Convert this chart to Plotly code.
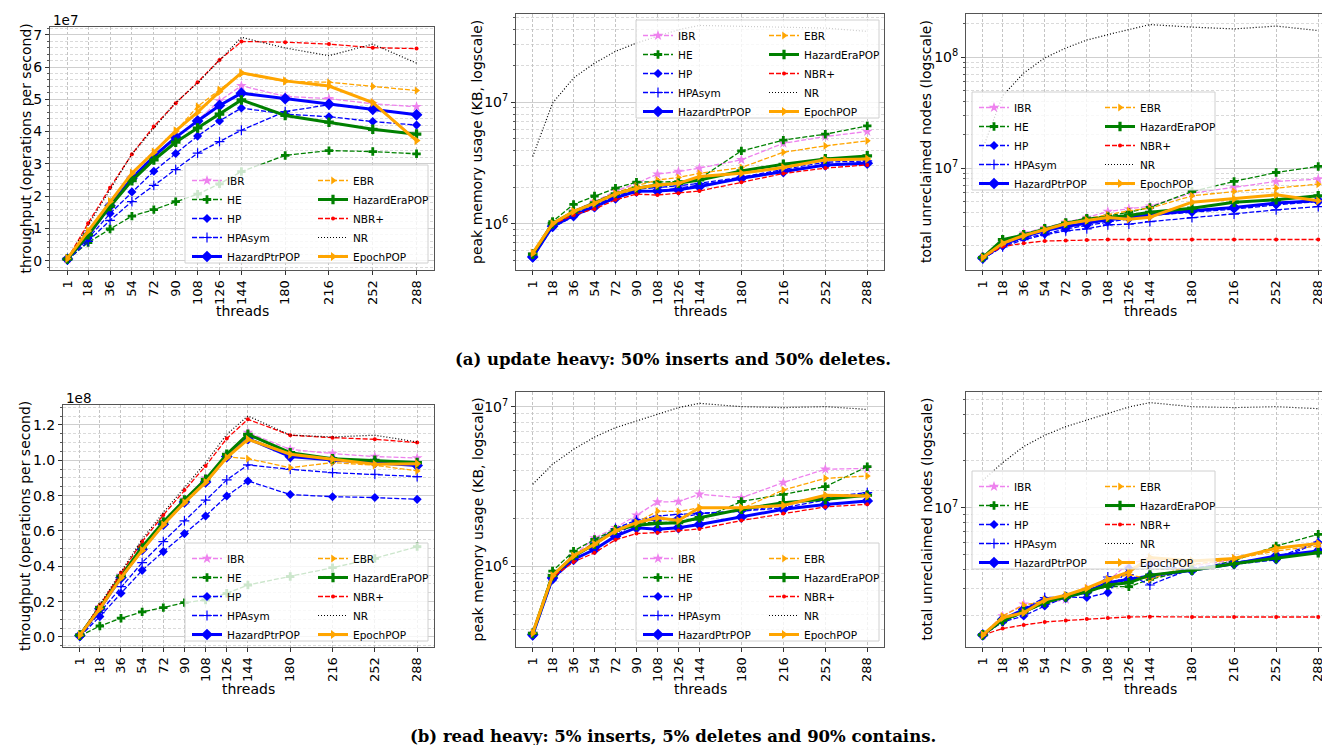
import plotly.graph_objects as go

W, H = 1330, 745

# ---------------- data ----------------
threads = [1, 18, 36, 54, 72, 90, 108, 126, 144, 180, 216, 252, 288]
series_names = ["IBR", "HE", "HP", "HPAsym", "HazardPtrPOP",
                "EBR", "HazardEraPOP", "NBR+", "NR", "EpochPOP"]

# (a) update heavy -- throughput (x 1e7 ops/s)
a_tp_IBR = [0.05, 0.85, 1.72, 2.58, 3.22, 3.82, 4.35, 4.95, 5.42, 5.09, 5.02, 4.86, 4.77]
a_tp_HE = [0.03, 0.56, 0.98, 1.38, 1.58, 1.83, 2.06, 2.38, 2.76, 3.26, 3.41, 3.38, 3.31]
a_tp_HP = [0.02, 0.69, 1.46, 2.13, 2.77, 3.32, 3.86, 4.33, 4.73, 4.54, 4.46, 4.31, 4.20]
a_tp_HPAsym = [0.02, 0.60, 1.25, 1.83, 2.33, 2.82, 3.33, 3.69, 4.04, 4.62, 4.83, 4.70, 4.52]
a_tp_HazardPtrPOP = [0.05, 0.78, 1.70, 2.55, 3.23, 3.82, 4.33, 4.81, 5.19, 5.02, 4.85, 4.69, 4.52]
a_tp_EBR = [0.07, 0.90, 1.80, 2.70, 3.35, 4.00, 4.78, 5.30, 5.80, 5.55, 5.53, 5.40, 5.27]
a_tp_HazardEraPOP = [0.05, 0.80, 1.68, 2.48, 3.12, 3.67, 4.11, 4.54, 4.98, 4.50, 4.29, 4.07, 3.92]
a_tp_NBR = [0.05, 1.16, 2.26, 3.30, 4.16, 4.88, 5.53, 6.22, 6.79, 6.77, 6.71, 6.60, 6.57]
a_tp_NR = [0.05, 1.10, 2.20, 3.30, 4.10, 4.90, 5.50, 6.20, 6.92, 6.59, 6.35, 6.71, 6.12]
a_tp_EpochPOP = [0.07, 0.92, 1.83, 2.71, 3.36, 4.02, 4.60, 5.24, 5.82, 5.57, 5.41, 4.90, 3.72]

# (a) update heavy -- peak memory (KB)
a_mem_IBR = [5.6e5, 1.0e6, 1.28e6, 1.52e6, 1.85e6, 2.15e6, 2.56e6, 2.69e6, 2.87e6, 3.36e6, 4.6e6, 5.23e6, 5.76e6]
a_mem_HE = [5.6e5, 1.04e6, 1.44e6, 1.69e6, 1.96e6, 2.2e6, 2.2e6, 2.22e6, 2.35e6, 3.98e6, 4.89e6, 5.47e6, 6.41e6]
a_mem_HP = [5.2e5, 0.93e6, 1.14e6, 1.36e6, 1.62e6, 1.86e6, 1.86e6, 1.96e6, 2.08e6, 2.37e6, 2.72e6, 3.05e6, 3.21e6]
a_mem_HPAsym = [5.4e5, 0.97e6, 1.2e6, 1.42e6, 1.68e6, 1.92e6, 1.98e6, 2.05e6, 2.15e6, 2.42e6, 2.8e6, 3.21e6, 3.29e6]
a_mem_HazardPtrPOP = [5.3e5, 0.95e6, 1.17e6, 1.38e6, 1.63e6, 1.85e6, 1.86e6, 1.9e6, 2.02e6, 2.37e6, 2.69e6, 3.05e6, 3.15e6]
a_mem_EBR = [5.7e5, 1.0e6, 1.27e6, 1.5e6, 1.8e6, 2.05e6, 2.29e6, 2.4e6, 2.6e6, 2.9e6, 3.88e6, 4.38e6, 4.82e6]
a_mem_HazardEraPOP = [5.6e5, 1.0e6, 1.25e6, 1.48e6, 1.76e6, 1.96e6, 2.08e6, 2.15e6, 2.29e6, 2.72e6, 3.09e6, 3.42e6, 3.62e6]
a_mem_NBR = [5.6e5, 0.98e6, 1.18e6, 1.32e6, 1.57e6, 1.75e6, 1.72e6, 1.78e6, 1.86e6, 2.19e6, 2.59e6, 2.87e6, 3.05e6]
a_mem_NR = [3.58e6, 9.87e6, 1.59e7, 2.11e7, 2.64e7, 3.09e7, 3.51e7, 3.98e7, 4.32e7, 4.25e7, 4.17e7, 4.11e7, 3.86e7]
a_mem_EpochPOP = [5.7e5, 1.0e6, 1.26e6, 1.47e6, 1.76e6, 1.96e6, 2.08e6, 2.15e6, 2.45e6, 2.6e6, 2.9e6, 3.36e6, 3.42e6]

# (a) update heavy -- total unreclaimed nodes
a_unr_IBR = [1.56e6, 2.1e6, 2.59e6, 2.9e6, 3.25e6, 3.58e6, 4.06e6, 4.29e6, 4.54e6, 5.94e6, 6.73e6, 7.58e6, 7.96e6]
a_unr_HE = [1.56e6, 2.26e6, 2.54e6, 2.81e6, 3.19e6, 3.53e6, 3.7e6, 4.0e6, 4.42e6, 6.15e6, 7.58e6, 9.13e6, 1.035e7]
a_unr_HP = [1.52e6, 2.0e6, 2.33e6, 2.54e6, 2.83e6, 3.04e6, 3.29e6, 3.53e6, 3.74e6, 4.0e6, 4.26e6, 4.66e6, 5.0e6]
a_unr_HPAsym = [1.52e6, 1.95e6, 2.26e6, 2.5e6, 2.72e6, 2.83e6, 3.08e6, 3.12e6, 3.29e6, 3.58e6, 3.85e6, 4.2e6, 4.5e6]
a_unr_HazardPtrPOP = [1.55e6, 2.03e6, 2.42e6, 2.72e6, 2.98e6, 3.19e6, 3.42e6, 3.58e6, 3.8e6, 4.12e6, 4.42e6, 4.84e6, 5.07e6]
a_unr_EBR = [1.56e6, 2.05e6, 2.5e6, 2.8e6, 3.2e6, 3.5e6, 3.8e6, 4.12e6, 4.35e6, 5.62e6, 6.15e6, 6.6e6, 7.17e6]
a_unr_HazardEraPOP = [1.56e6, 2.26e6, 2.5e6, 2.83e6, 3.19e6, 3.46e6, 3.58e6, 3.74e6, 4.0e6, 4.35e6, 4.93e6, 5.18e6, 5.62e6]
a_unr_NBR = [1.56e6, 1.96e6, 2.1e6, 2.2e6, 2.22e6, 2.25e6, 2.27e6, 2.27e6, 2.27e6, 2.27e6, 2.27e6, 2.27e6, 2.27e6]
a_unr_NR = [1.5e7, 4.5e7, 7.2e7, 9.86e7, 1.21e8, 1.43e8, 1.6e8, 1.78e8, 1.97e8, 1.87e8, 1.8e8, 1.91e8, 1.74e8]
a_unr_EpochPOP = [1.56e6, 2.1e6, 2.46e6, 2.78e6, 3.15e6, 3.37e6, 3.58e6, 3.46e6, 3.61e6, 4.93e6, 5.28e6, 5.74e6, 5.07e6]

# (b) read heavy -- throughput (x 1e8 ops/s)
b_tp_IBR = [0.01, 0.17, 0.35, 0.51, 0.65, 0.78, 0.90, 1.03, 1.157, 1.062, 1.038, 1.021, 1.013]
b_tp_HE = [0.005, 0.062, 0.106, 0.142, 0.166, 0.194, 0.209, 0.247, 0.294, 0.342, 0.392, 0.445, 0.511]
b_tp_HP = [0.003, 0.115, 0.247, 0.377, 0.483, 0.585, 0.685, 0.798, 0.883, 0.806, 0.794, 0.789, 0.779]
b_tp_HPAsym = [0.005, 0.138, 0.285, 0.421, 0.54, 0.657, 0.775, 0.889, 0.974, 0.949, 0.93, 0.921, 0.908]
b_tp_HazardPtrPOP = [0.008, 0.16, 0.336, 0.496, 0.638, 0.764, 0.877, 1.021, 1.123, 1.021, 1.002, 0.987, 0.97]
b_tp_EBR = [0.01, 0.16, 0.335, 0.49, 0.635, 0.76, 0.875, 1.02, 1.009, 0.958, 0.987, 0.972, 0.94]
b_tp_HazardEraPOP = [0.01, 0.166, 0.345, 0.509, 0.651, 0.775, 0.892, 1.034, 1.147, 1.043, 1.009, 1.0, 0.987]
b_tp_NBR = [0.01, 0.18, 0.364, 0.54, 0.69, 0.832, 0.968, 1.123, 1.232, 1.142, 1.128, 1.119, 1.1]
b_tp_NR = [0.01, 0.185, 0.374, 0.553, 0.704, 0.845, 0.987, 1.147, 1.251, 1.143, 1.132, 1.142, 1.104]
b_tp_EpochPOP = [0.01, 0.16, 0.335, 0.49, 0.635, 0.76, 0.875, 1.015, 1.119, 1.034, 1.006, 0.977, 0.981]

# (b) read heavy -- peak memory (KB)
b_mem_IBR = [3.78e5, 8.7e5, 1.16e6, 1.5e6, 1.74e6, 2.08e6, 2.52e6, 2.54e6, 2.82e6, 2.68e6, 3.34e6, 4.05e6, 4.1e6]
b_mem_HE = [3.78e5, 9.3e5, 1.24e6, 1.47e6, 1.7e6, 1.87e6, 1.87e6, 1.89e6, 1.96e6, 2.54e6, 2.82e6, 3.15e6, 4.2e6]
b_mem_HP = [3.64e5, 8.17e5, 1.1e6, 1.27e6, 1.54e6, 1.91e6, 1.94e6, 2.0e6, 2.13e6, 2.21e6, 2.32e6, 2.6e6, 2.82e6]
b_mem_HPAsym = [3.78e5, 8.5e5, 1.15e6, 1.4e6, 1.72e6, 1.94e6, 2.06e6, 2.11e6, 2.15e6, 2.21e6, 2.4e6, 2.7e6, 2.89e6]
b_mem_HazardPtrPOP = [3.7e5, 8.4e5, 1.1e6, 1.27e6, 1.54e6, 1.74e6, 1.7e6, 1.74e6, 1.82e6, 2.03e6, 2.27e6, 2.43e6, 2.56e6]
b_mem_EBR = [3.8e5, 8.7e5, 1.15e6, 1.41e6, 1.68e6, 1.87e6, 2.21e6, 2.2e6, 2.32e6, 2.29e6, 3.0e6, 3.55e6, 3.67e6]
b_mem_HazardEraPOP = [3.78e5, 8.7e5, 1.15e6, 1.37e6, 1.68e6, 1.8e6, 1.85e6, 1.87e6, 2.01e6, 2.27e6, 2.5e6, 2.62e6, 2.78e6]
b_mem_NBR = [3.78e5, 8.5e5, 1.06e6, 1.21e6, 1.46e6, 1.6e6, 1.62e6, 1.67e6, 1.71e6, 1.93e6, 2.14e6, 2.35e6, 2.44e6]
b_mem_NR = [3.26e6, 4.35e6, 5.4e6, 6.45e6, 7.38e6, 8.13e6, 8.95e6, 9.86e6, 1.05e7, 1.0e7, 9.86e6, 1.0e7, 9.61e6]
b_mem_EpochPOP = [3.8e5, 8.7e5, 1.16e6, 1.37e6, 1.66e6, 1.87e6, 2.01e6, 1.93e6, 2.32e6, 2.32e6, 2.4e6, 2.78e6, 2.75e6]

# (b) read heavy -- total unreclaimed nodes
b_unr_IBR = [1.51e6, 2.0e6, 2.38e6, 2.41e6, 2.56e6, 2.98e6, 3.35e6, 4.38e6, 4.66e6, 4.2e6, 4.6e6, 5.52e6, 5.88e6]
b_unr_HE = [1.51e6, 1.83e6, 2.1e6, 2.41e6, 2.65e6, 2.88e6, 3.09e6, 3.09e6, 3.45e6, 3.95e6, 4.55e6, 5.66e6, 6.73e6]
b_unr_HP = [1.51e6, 1.83e6, 2.0e6, 2.32e6, 2.65e6, 2.63e6, 2.83e6, 4.06e6, 4.3e6, 3.95e6, 4.3e6, 4.6e6, 5.95e6]
b_unr_HPAsym = [1.51e6, 1.86e6, 2.23e6, 2.63e6, 2.65e6, 2.84e6, 3.57e6, 3.7e6, 3.17e6, 4.05e6, 4.45e6, 4.76e6, 6.0e6]
b_unr_HazardPtrPOP = [1.51e6, 1.9e6, 2.2e6, 2.5e6, 2.65e6, 2.86e6, 3.28e6, 3.45e6, 3.62e6, 3.95e6, 4.35e6, 4.88e6, 5.26e6]
b_unr_EBR = [1.51e6, 2.0e6, 2.35e6, 2.5e6, 2.65e6, 2.98e6, 3.4e6, 3.7e6, 3.45e6, 4.3e6, 4.65e6, 5.26e6, 5.66e6]
b_unr_HazardEraPOP = [1.51e6, 1.88e6, 2.13e6, 2.45e6, 2.65e6, 2.86e6, 3.17e6, 3.28e6, 3.67e6, 3.95e6, 4.35e6, 4.71e6, 5.12e6]
b_unr_NBR = [1.51e6, 1.66e6, 1.75e6, 1.83e6, 1.87e6, 1.91e6, 1.94e6, 1.97e6, 1.98e6, 1.97e6, 1.97e6, 1.97e6, 1.97e6]
b_unr_NR = [1.5e7, 1.95e7, 2.48e7, 2.93e7, 3.33e7, 3.68e7, 4.04e7, 4.46e7, 4.76e7, 4.48e7, 4.42e7, 4.48e7, 4.35e7]
b_unr_EpochPOP = [1.51e6, 1.95e6, 2.1e6, 2.54e6, 2.72e6, 3.02e6, 3.45e6, 3.85e6, 4.76e6, 4.53e6, 4.7e6, 5.47e6, 5.88e6]

# tick labels
x_tick_labels = [str(t) for t in threads]
a_tp_ticks = [0, 1, 2, 3, 4, 5, 6, 7]
a_tp_ticklabels = ["0", "1", "2", "3", "4", "5", "6", "7"]
b_tp_ticks = [0.0, 0.2, 0.4, 0.6, 0.8, 1.0, 1.2]
b_tp_ticklabels = ["0.0", "0.2", "0.4", "0.6", "0.8", "1.0", "1.2"]

# ---------------- styles ----------------
styles = {
    "IBR": dict(color="#EE82EE", dash="5px,2px", width=1.3, symbol="star", size=8),
    "HE": dict(color="#008000", dash="5px,2px", width=1.3, symbol="cross", size=7),
    "HP": dict(color="#0000FF", dash="5px,2px", width=1.3, symbol="diamond", size=7),
    "HPAsym": dict(color="#0000FF", dash="5px,2px", width=1.3, symbol="cross-thin", size=7),
    "HazardPtrPOP": dict(color="#0000FF", dash="solid", width=3, symbol="diamond", size=9),
    "EBR": dict(color="#FFA500", dash="5px,2px", width=1.3, symbol="triangle-right", size=7),
    "HazardEraPOP": dict(color="#008000", dash="solid", width=3, symbol="cross", size=8),
    "NBR+": dict(color="#FF0000", dash="5px,2px", width=1.3, symbol="circle", size=4),
    "NR": dict(color="#000000", dash="1px,2px", width=1.2, symbol=None, size=0),
    "EpochPOP": dict(color="#FFA500", dash="solid", width=3, symbol="triangle-right", size=8),
}


def px_x(p):
    return p / W


def px_y(p):
    return 1 - p / H


def minor_log(lo, hi):
    vals = []
    for e in range(lo, hi + 1):
        for m in range(2, 10):
            vals.append(m * 10 ** e)
    return vals


panels = [
    dict(data=[a_tp_IBR, a_tp_HE, a_tp_HP, a_tp_HPAsym, a_tp_HazardPtrPOP, a_tp_EBR,
               a_tp_HazardEraPOP, a_tp_NBR, a_tp_NR, a_tp_EpochPOP], scale=1e7,
         box=(42, 426, 19, 262), ytype="linear", yrange=[-0.29e7, 7.24e7],
         ticks=[v * 1e7 for v in a_tp_ticks], ticktext=a_tp_ticklabels,
         minor=[i * 0.2e7 for i in range(-1, 37)],
         ylabel="throughput (operations per second)", ylab_x=17, offset="1e7",
         offset_pos=(43, 12), leg=(177, 157), xlab_y=303),
    dict(data=[a_mem_IBR, a_mem_HE, a_mem_HP, a_mem_HPAsym, a_mem_HazardPtrPOP, a_mem_EBR,
               a_mem_HazardEraPOP, a_mem_NBR, a_mem_NR, a_mem_EpochPOP], scale=1,
         box=(508, 876, 6, 262), ytype="log", yrange=[5.617, 7.73],
         ticks=[1e6, 1e7], ticktext=["10<sup>6</sup>", "10<sup>7</sup>"],
         minor=minor_log(5, 7),
         ylabel="peak memory usage (KB, logscale)", ylab_x=469, offset=None,
         leg=(628, 12), xlab_y=303),
    dict(data=[a_unr_IBR, a_unr_HE, a_unr_HP, a_unr_HPAsym, a_unr_HazardPtrPOP, a_unr_EBR,
               a_unr_HazardEraPOP, a_unr_NBR, a_unr_NR, a_unr_EpochPOP], scale=1,
         box=(958, 1327, 6, 262), ytype="log", yrange=[6.081, 8.39],
         ticks=[1e7, 1e8], ticktext=["10<sup>7</sup>", "10<sup>8</sup>"],
         minor=minor_log(6, 8),
         ylabel="total unreclaimed nodes (logscale)", ylab_x=918, offset=None,
         leg=(964, 84), xlab_y=303),
    dict(data=[b_tp_IBR, b_tp_HE, b_tp_HP, b_tp_HPAsym, b_tp_HazardPtrPOP, b_tp_EBR,
               b_tp_HazardEraPOP, b_tp_NBR, b_tp_NR, b_tp_EpochPOP], scale=1e8,
         box=(55, 426, 397, 639), ytype="linear", yrange=[-0.057e8, 1.313e8],
         ticks=[v * 1e8 for v in b_tp_ticks], ticktext=b_tp_ticklabels,
         minor=[i * 0.05e8 for i in range(-2, 28)],
         ylabel="throughput (operations per second)", ylab_x=17, offset="1e8",
         offset_pos=(56, 390), leg=(177, 535), xlab_y=681),
    dict(data=[b_mem_IBR, b_mem_HE, b_mem_HP, b_mem_HPAsym, b_mem_HazardPtrPOP, b_mem_EBR,
               b_mem_HazardEraPOP, b_mem_NBR, b_mem_NR, b_mem_EpochPOP], scale=1,
         box=(508, 876, 384, 639), ytype="log", yrange=[5.492, 7.092],
         ticks=[1e6, 1e7], ticktext=["10<sup>6</sup>", "10<sup>7</sup>"],
         minor=minor_log(5, 7),
         ylabel="peak memory usage (KB, logscale)", ylab_x=469, offset=None,
         leg=(628, 535), xlab_y=681),
    dict(data=[b_unr_IBR, b_unr_HE, b_unr_HP, b_unr_HPAsym, b_unr_HazardPtrPOP, b_unr_EBR,
               b_unr_HazardEraPOP, b_unr_NBR, b_unr_NR, b_unr_EpochPOP], scale=1,
         box=(958, 1327, 384, 639), ytype="log", yrange=[6.101, 7.746],
         ticks=[1e7], ticktext=["10<sup>7</sup>"],
         minor=minor_log(6, 7),
         ylabel="total unreclaimed nodes (logscale)", ylab_x=918, offset=None,
         leg=(964, 463), xlab_y=681),
]

FONT = "DejaVu Sans"
fig = go.Figure()
layout = dict(width=W, height=H, margin=dict(l=0, r=0, t=0, b=0),
              paper_bgcolor="white", plot_bgcolor="white", autosize=False,
              font=dict(family=FONT, size=14, color="black"))
annotations = []
shapes = []
LEG_H = 98
LEG_W = 243

for i, p in enumerate(panels):
    k = i + 1
    xa = "xaxis" if k == 1 else f"xaxis{k}"
    ya = "yaxis" if k == 1 else f"yaxis{k}"
    xr = "x" if k == 1 else f"x{k}"
    yr = "y" if k == 1 else f"y{k}"
    x0, x1, y0, y1 = p["box"]
    layout[xa] = dict(
        domain=[px_x(x0), px_x(x1)], anchor=yr, range=[-13.35, 302.35],
        tickmode="array", tickvals=threads, ticktext=x_tick_labels, tickangle=-90,
        ticks="outside", ticklen=4, tickcolor="#333", tickfont=dict(size=13),
        showline=True, mirror=True, linecolor="#555", linewidth=1,
        showgrid=True, gridcolor="#c4c4c4", griddash="3px,2px", gridwidth=1,
        zeroline=False,
    )
    layout[ya] = dict(
        domain=[px_y(y1), px_y(y0)], anchor=xr, type=p["ytype"], range=p["yrange"],
        tickmode="array", tickvals=p["ticks"], ticktext=p["ticktext"],
        ticks="outside", ticklen=4, tickcolor="#333", tickfont=dict(size=14),
        showline=True, mirror=True, linecolor="#555", linewidth=1,
        showgrid=True, gridcolor="#cfcfcf", gridwidth=1, zeroline=False,
        minor=dict(tickmode="array", tickvals=p["minor"], showgrid=True,
                   gridcolor="#dadada", griddash="3px,2px", ticks="outside",
                   ticklen=2, tickcolor="#555"),
    )
    legA = "legend" if k == 1 else f"legend{2 * k - 1}"
    legB = f"legend{2 * k}"
    lx, ly = p["leg"]
    for lname, xoff in ((legA, 2), (legB, 128)):
        layout[lname] = dict(x=px_x(lx + xoff), y=px_y(ly + 1), xanchor="left",
                             yanchor="top", bgcolor="rgba(0,0,0,0)", borderwidth=0,
                             font=dict(family=FONT, size=10.5, color="black"),
                             tracegroupgap=0, itemwidth=30)
    shapes.append(dict(type="rect", xref="paper", yref="paper",
                       x0=px_x(lx), x1=px_x(lx + LEG_W),
                       y0=px_y(ly + LEG_H), y1=px_y(ly),
                       fillcolor="rgba(255,255,255,0.8)",
                       line=dict(color="#d0d0d0", width=1), layer="above"))

    for j, (name, vals) in enumerate(zip(series_names, p["data"])):
        st = styles[name]
        yvals = [v * p["scale"] for v in vals]
        mode = "lines" if st["symbol"] is None else "lines+markers"
        marker = None
        if st["symbol"] is not None:
            marker = dict(symbol=st["symbol"], size=st["size"], color=st["color"],
                          line=dict(color=st["color"],
                                    width=1.2 if st["symbol"] == "cross-thin" else 0))
        fig.add_trace(go.Scatter(
            x=threads, y=yvals, name=name, mode=mode, xaxis=xr, yaxis=yr,
            line=dict(color=st["color"], dash=st["dash"], width=st["width"]),
            marker=marker, legend=legA if j < 5 else legB, showlegend=True,
        ))

    # axis titles
    annotations.append(dict(text=p["ylabel"], x=px_x(p["ylab_x"]),
                            y=px_y((y0 + y1) / 2), xref="paper", yref="paper",
                            textangle=-90, showarrow=False, xanchor="center",
                            yanchor="middle", font=dict(size=14)))
    annotations.append(dict(text="threads", x=px_x((x0 + x1) / 2), y=px_y(p["xlab_y"]),
                            xref="paper", yref="paper", showarrow=False,
                            xanchor="center", yanchor="middle", font=dict(size=14)))
    if p["offset"]:
        ox, oy = p["offset_pos"]
        annotations.append(dict(text=p["offset"], x=px_x(ox), y=px_y(oy),
                                xref="paper", yref="paper", showarrow=False,
                                xanchor="left", yanchor="middle", font=dict(size=13.5)))

annotations.append(dict(text="<b>(a) update heavy: 50% inserts and 50% deletes.</b>",
                        x=px_x(665), y=px_y(352), xref="paper", yref="paper",
                        showarrow=False, xanchor="center", yanchor="middle",
                        font=dict(family="DejaVu Serif", size=16.5)))
annotations.append(dict(text="<b>(b) read heavy: 5% inserts, 5% deletes and 90% contains.</b>",
                        x=px_x(665), y=px_y(728), xref="paper", yref="paper",
                        showarrow=False, xanchor="center", yanchor="middle",
                        font=dict(family="DejaVu Serif", size=16.5)))

layout["annotations"] = annotations
layout["shapes"] = shapes
fig.update_layout(**layout)
fig.write_html("out.html")
